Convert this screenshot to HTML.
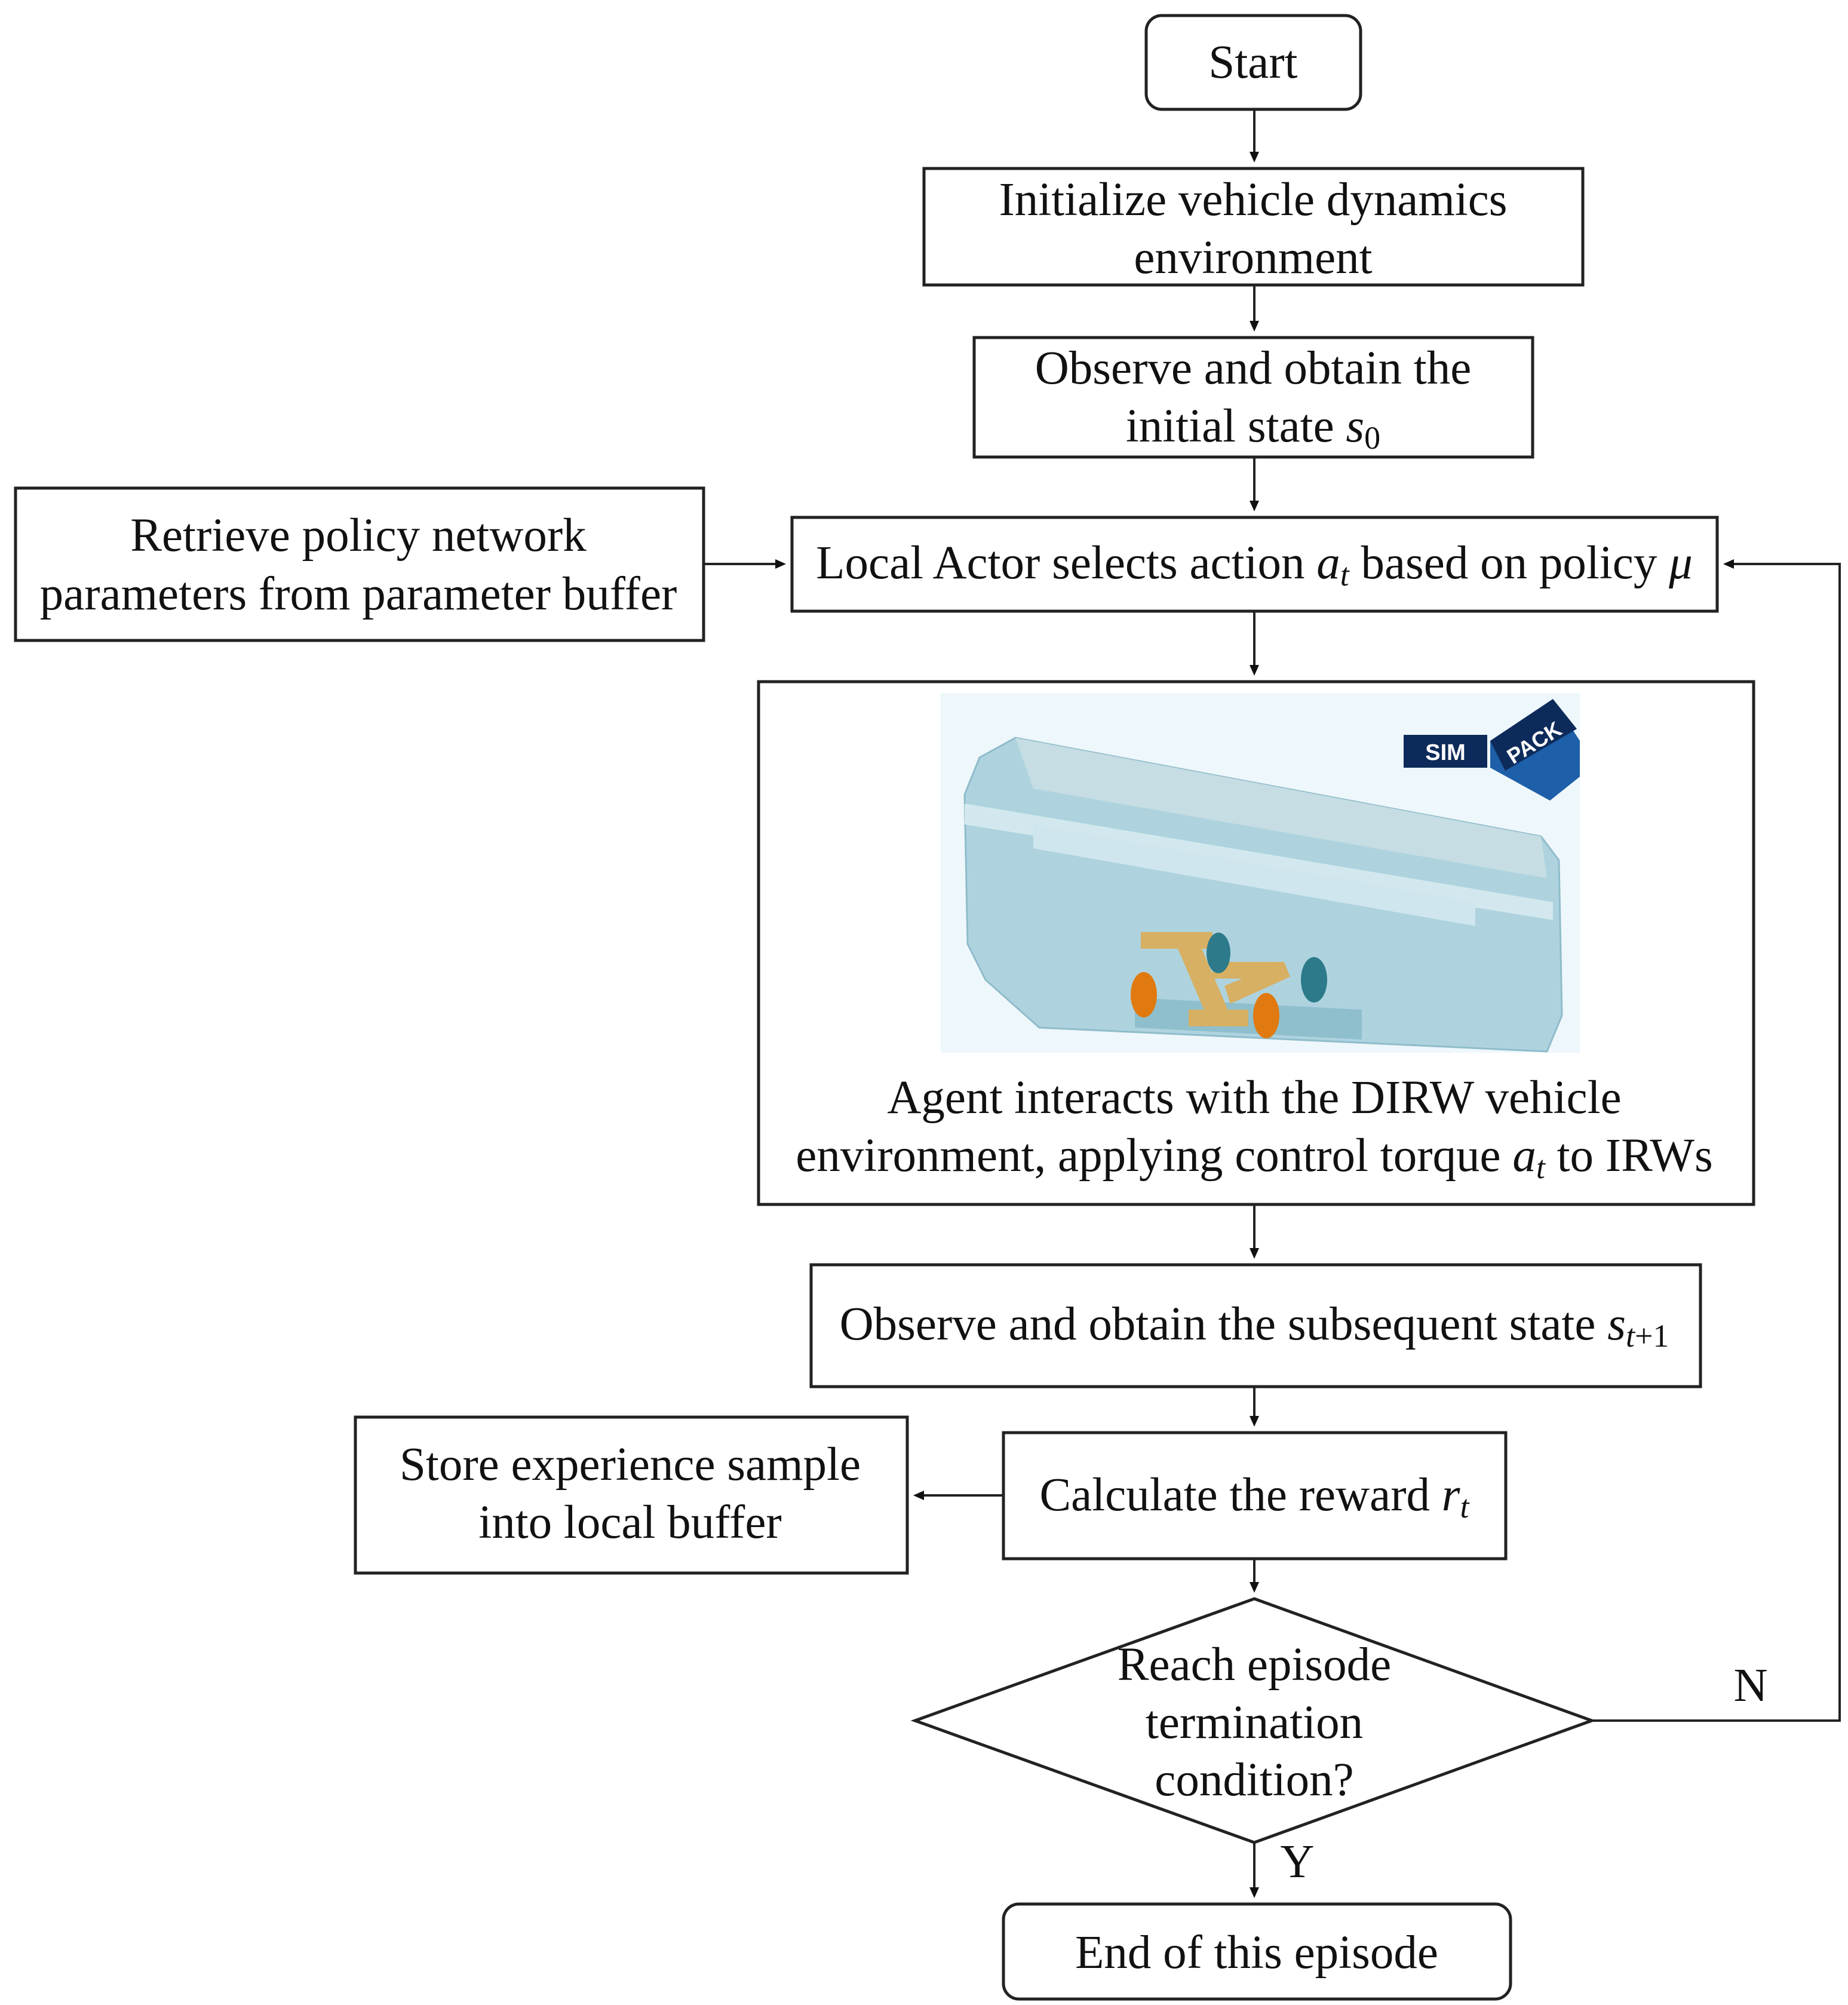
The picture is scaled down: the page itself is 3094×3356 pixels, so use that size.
<!DOCTYPE html>
<html><head><meta charset="utf-8"><style>
html,body{margin:0;padding:0;background:#fff}
svg{display:block}
text{font-family:"Liberation Serif",serif;font-size:79px;fill:#111}
</style></head><body>
<svg width="3094" height="3356" viewBox="0 0 3094 3356" xmlns="http://www.w3.org/2000/svg">
<g fill="none" stroke="#222" stroke-width="5">
<rect x="1919" y="26" width="359" height="157" rx="26"/>
<rect x="1547" y="282" width="1103" height="195"/>
<rect x="1631" y="565" width="935" height="200"/>
<rect x="26" y="817" width="1152" height="255"/>
<rect x="1326" y="866" width="1549" height="157"/>
<rect x="1270" y="1141" width="1666" height="875"/>
<rect x="1358" y="2117" width="1489" height="204"/>
<rect x="595" y="2372" width="924" height="261"/>
<rect x="1680" y="2398" width="841" height="211"/>
<polygon points="2100,2676 2665,2880 2100,3084 1532,2880"/>
<rect x="1680" y="3187" width="849" height="159" rx="26"/>
</g>
<g stroke="#222" stroke-width="4" fill="none">
<line x1="2100" y1="183" x2="2100" y2="262"/>
<line x1="2100" y1="477" x2="2100" y2="545"/>
<line x1="2100" y1="765" x2="2100" y2="846"/>
<line x1="1178" y1="944" x2="1306" y2="944"/>
<line x1="2100" y1="1023" x2="2100" y2="1121"/>
<line x1="2100" y1="2016" x2="2100" y2="2097"/>
<line x1="2100" y1="2321" x2="2100" y2="2378"/>
<line x1="1680" y1="2503" x2="1539" y2="2503"/>
<line x1="2100" y1="2609" x2="2100" y2="2656"/>
<line x1="2100" y1="3084" x2="2100" y2="3167"/>
<polyline points="2665,2880 3080,2880 3080,944 2895,944"/>
</g>
<g fill="#111">
<polygon points="2100,272 2092,254 2108,254"/>
<polygon points="2100,555 2092,537 2108,537"/>
<polygon points="2100,856 2092,838 2108,838"/>
<polygon points="1316,944 1298,936 1298,952"/>
<polygon points="2100,1131 2092,1113 2108,1113"/>
<polygon points="2100,2107 2092,2089 2108,2089"/>
<polygon points="2100,2388 2092,2370 2108,2370"/>
<polygon points="1529,2503 1547,2495 1547,2511"/>
<polygon points="2100,2666 2092,2648 2108,2648"/>
<polygon points="2100,3177 2092,3159 2108,3159"/>
<polygon points="2885,944 2903,936 2903,952"/>
</g>
<rect x="1575" y="1160" width="1070" height="602" fill="#eef7fb"/>
<g>
<polygon points="1640,1268 1700,1235 2580,1400 2610,1440 2615,1700 2590,1760 1740,1720 1650,1640 1620,1580 1615,1330" fill="#aed3df" stroke="#8fbccb" stroke-width="3"/>
<polygon points="1700,1235 2580,1400 2590,1470 1730,1320" fill="#c5dde3"/>
<polygon points="1615,1345 2600,1510 2600,1540 1615,1380" fill="#d3e8ee"/>
<polygon points="1730,1380 2470,1510 2470,1550 1730,1420" fill="#cfe6ee"/>
<polygon points="1900,1670 2280,1690 2280,1740 1900,1720" fill="#8fbfcd"/>
<g fill="#d7b063">
<rect x="1910" y="1560" width="120" height="28"/>
<rect x="2030" y="1610" width="120" height="28"/>
<polygon points="1960,1560 2000,1560 2060,1700 2020,1700"/>
<polygon points="2050,1650 2150,1610 2160,1635 2060,1680"/>
<rect x="1990" y="1690" width="100" height="28"/>
</g>
<ellipse cx="1915" cy="1665" rx="22" ry="38" fill="#e07a10"/>
<ellipse cx="2120" cy="1700" rx="22" ry="38" fill="#e07a10"/>
<ellipse cx="2040" cy="1595" rx="20" ry="34" fill="#2c7a8a"/>
<ellipse cx="2200" cy="1640" rx="22" ry="38" fill="#2c7a8a"/>
<rect x="2350" y="1230" width="140" height="55" fill="#0d2b5a"/>
<text x="2420" y="1272" text-anchor="middle" style="font-family:'Liberation Sans',sans-serif;font-size:38px;font-weight:bold;fill:#fff">SIM</text>
<polygon points="2495,1240 2600,1170 2645,1240 2645,1300 2595,1340 2495,1285" fill="#1d5fa8"/>
<polygon points="2495,1240 2600,1170 2640,1220 2520,1290" fill="#0d2b5a"/>
<text x="2570" y="1255" text-anchor="middle" transform="rotate(-32 2570 1245)" style="font-family:'Liberation Sans',sans-serif;font-size:36px;font-weight:bold;fill:#fff">PACK</text>
</g>
<g text-anchor="middle">
<text x="2098" y="130" font-size="88">Start</text>
<text x="2098" y="360">Initialize vehicle dynamics</text>
<text x="2098" y="457">environment</text>
<text x="2098" y="642">Observe and obtain the</text>
<text x="2098" y="739">initial state <tspan font-style="italic">s</tspan><tspan font-size="54" dy="12">0</tspan></text>
<text x="600" y="922">Retrieve policy network</text>
<text x="600" y="1020">parameters from parameter buffer</text>
<text x="2100" y="968">Local Actor selects action <tspan font-style="italic">a</tspan><tspan font-style="italic" font-size="54" dy="12">t</tspan><tspan dy="-12"> based on policy </tspan><tspan font-style="italic">μ</tspan></text>
<text x="2100" y="1863">Agent interacts with the DIRW vehicle</text>
<text x="2100" y="1960">environment, applying control torque <tspan font-style="italic">a</tspan><tspan font-style="italic" font-size="54" dy="12">t</tspan><tspan dy="-12"> to IRWs</tspan></text>
<text x="2100" y="2242">Observe and obtain the subsequent state <tspan font-style="italic">s</tspan><tspan font-style="italic" font-size="54" dy="12">t</tspan><tspan font-size="54">+1</tspan></text>
<text x="1055" y="2477">Store experience sample</text>
<text x="1055" y="2574">into local buffer</text>
<text x="2100" y="2528">Calculate the reward <tspan font-style="italic">r</tspan><tspan font-style="italic" font-size="54" dy="12">t</tspan></text>
<text x="2100" y="2812">Reach episode</text>
<text x="2100" y="2909">termination</text>
<text x="2100" y="3005">condition?</text>
<text x="2104" y="3294" font-size="90">End of this episode</text>
<text x="2931" y="2847">N</text>
<text x="2172" y="3142">Y</text>
</g>
</svg>
</body></html>
